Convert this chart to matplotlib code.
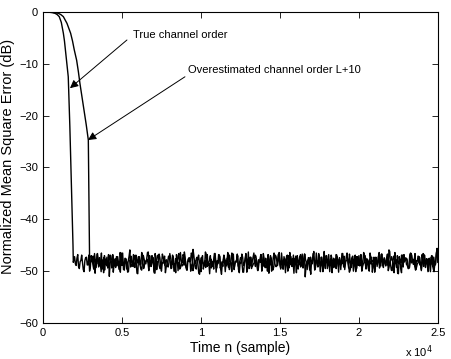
import numpy as np
import matplotlib
matplotlib.use('Agg')
import matplotlib.pyplot as plt

# decay part of each learning curve (time in samples, NMSE in dB)
true_n = [0, 200, 400, 600, 760, 900, 1030, 1160, 1290, 1360, 1420, 1480,
          1540, 1600, 1700, 1800, 1900, 1920]
true_db = [0, -0.01, -0.05, -0.13, -0.25, -0.5, -0.9, -2.0, -4.1, -5.6,
           -7.3, -8.9, -10.5, -12.5, -22.0, -33.5, -45.0, -48.3]

over_n = [0, 300, 600, 970, 1130, 1290, 1520, 1750, 1870, 1980, 2130, 2240,
          2340, 2470, 2600, 2740, 2870, 2900, 2930, 2950]
over_db = [0, -0.01, -0.06, -0.25, -0.5, -0.9, -2.2, -4.1, -5.6, -7.3, -9.3,
           -11.5, -13.8, -16.4, -19.0, -21.8, -24.7, -33.0, -42.0, -48.0]

# steady state part: evenly spaced samples from 2000
# (resp. 3000) to 25000, and the samples in between
true_steady = [
    -47.2, -48.9, -46.8, -49.5, -47.9, -48.3, -50.1, -47.4, -48.8, -46.9,
    -49.2, -48.0, -47.1, -50.4, -48.6, -47.7, -49.0, -46.5, -48.4, -49.8,
    -47.6, -48.2, -51.0, -47.9, -46.9, -48.7, -49.3, -47.3, -48.1, -50.2,
    -46.7, -48.5, -47.8, -49.6, -48.0, -45.9, -48.8, -49.1, -47.5, -48.3,
    -50.5, -47.2, -48.6, -46.8, -49.4, -48.1, -47.7, -49.9, -48.4, -47.0,
    -48.9, -46.6, -49.7, -48.2, -47.4, -50.0, -48.5, -47.1, -49.2, -48.0,
    -47.6, -49.5, -46.9, -48.8, -50.3, -47.8, -48.3, -46.4, -49.0, -48.6,
    -47.3, -49.8, -48.1, -47.5, -48.9, -45.8, -48.4, -49.6, -47.7, -48.2,
    -50.1, -47.0, -48.7, -49.3, -46.8, -48.5, -47.9, -49.1, -48.0, -46.6,
    -49.4, -48.3, -47.2, -50.6, -48.1, -47.6, -49.0, -48.8, -46.9, -48.4,
    -47.8, -49.7, -48.2, -46.7, -49.2, -47.4, -48.6, -50.2, -47.9, -48.0,
    -46.3, -48.9, -49.5, -47.3, -48.4, -47.7, -49.9, -48.1, -46.8, -48.7,
    -49.1, -47.5, -48.3, -50.4, -47.0, -48.6, -49.3, -46.9, -48.0, -47.8,
    -48.8, -46.5, -49.6, -48.2, -47.6, -50.0, -48.4, -47.2, -49.0, -48.5,
    -47.1, -49.4, -48.0, -46.8, -48.9, -47.7, -51.1, -48.3, -47.4, -49.2,
    -48.1, -46.6, -49.8, -47.9, -48.5, -47.3, -49.0, -48.7, -46.2, -48.4,
    -49.5, -47.8, -48.2, -50.3, -47.5, -48.9, -46.9, -49.1, -48.0, -47.6,
    -48.6, -49.7, -47.2, -48.3, -46.7, -49.3, -48.1, -47.9, -50.1, -48.4,
    -47.0, -48.8, -49.2, -46.4, -48.5, -47.6, -49.6, -48.2, -47.3, -48.9,
    -50.2, -47.7, -48.0, -49.4, -46.8, -48.6, -47.4, -49.0, -48.3, -45.9,
    -48.7, -49.9, -47.1, -48.4, -47.8, -50.5, -48.1, -46.9, -49.2, -48.0,
    -47.5, -48.9, -49.3, -46.6, -48.2, -47.9, -49.7, -48.5, -47.2, -48.6,
    -46.8, -49.1, -48.0, -47.6, -50.0, -48.3, -47.0, -49.5, -48.8, -46.5,
    -48.2,
]
true_steady_mid = [
    -48.6, -47.5, -49.1, -48.2, -46.9, -49.7, -48.0, -47.3, -48.8, -50.0,
    -47.0, -48.4, -49.4, -47.8, -46.6, -48.9, -48.1, -49.6, -47.4, -48.3,
    -49.0, -46.8, -48.5, -47.7, -50.2, -48.0, -47.2, -48.7, -49.3, -46.5,
    -48.2, -49.8, -47.6, -48.4, -47.1, -49.2, -48.6, -46.9, -48.0, -50.4,
    -47.3, -48.8, -46.4, -49.5, -48.1, -47.9, -48.5, -47.0, -49.1, -48.3,
    -50.1, -47.6, -48.2, -46.7, -49.0, -48.4, -47.5, -50.3, -48.7, -47.1,
    -48.0, -49.4, -47.3, -48.6, -46.8, -49.9, -48.2, -47.8, -48.9, -46.3,
    -49.3, -48.1, -47.4, -50.0, -48.5, -47.0, -49.1, -48.3, -46.9, -48.7,
    -47.6, -49.6, -48.0, -47.2, -48.8, -50.5, -47.7, -48.4, -46.6, -49.2,
    -48.3, -47.1, -49.7, -48.5, -46.9, -48.0, -47.5, -49.3, -48.1, -50.1,
    -46.7, -48.6, -47.9, -49.0, -48.2, -47.4, -50.2, -48.4, -47.0, -48.8,
    -49.5, -47.3, -48.1, -46.5, -49.1, -48.6, -47.8, -48.3, -50.0, -47.2,
    -48.5, -49.2, -46.8, -48.0, -47.6, -49.8, -48.2, -47.1, -48.9, -46.4,
    -49.4, -48.1, -47.7, -50.3, -48.4, -47.0, -48.7, -49.1, -46.9, -48.2,
    -47.5, -49.6, -48.3, -47.2, -48.8, -46.7, -49.0, -48.5, -47.4, -50.6,
    -48.0, -47.8, -49.3, -48.1, -46.6, -48.9, -47.3, -49.5, -48.4, -47.0,
    -48.6, -50.1, -47.5, -48.2, -49.2, -46.8, -48.0, -47.7, -49.7, -48.3,
    -47.1, -48.5, -46.5, -49.4, -48.1, -47.6, -50.0, -48.7, -47.2, -48.9,
    -49.0, -47.4, -48.3, -46.9, -49.6, -48.0, -47.8, -48.6, -50.2, -47.3,
    -48.4, -49.1, -47.0, -48.8, -46.7, -49.3, -48.2, -47.5, -48.9, -46.2,
    -49.8, -48.1, -47.6, -48.5, -50.4, -47.2, -48.3, -49.0, -46.8, -48.0,
    -47.7, -49.5, -48.2, -47.0, -48.7, -46.6, -49.2, -48.4, -47.4, -49.9,
    -48.1, -46.9, -48.6, -49.3, -47.5, -48.0, -47.1, -50.1, -48.5, -45.7,
]
over_steady = [
    -48.4, -47.1, -49.6, -48.0, -46.7, -49.2, -48.5, -47.8, -50.3, -48.1,
    -47.3, -48.8, -46.9, -49.4, -48.2, -47.6, -49.0, -48.6, -46.4, -48.9,
    -49.7, -47.5, -48.3, -50.1, -47.9, -48.4, -46.8, -49.3, -48.0, -47.2,
    -48.7, -49.8, -47.0, -48.5, -47.7, -46.3, -49.1, -48.2, -47.4, -50.4,
    -48.0, -46.9, -49.5, -48.6, -47.3, -48.9, -47.8, -49.2, -46.6, -48.3,
    -47.5, -50.0, -48.1, -47.1, -49.6, -48.4, -46.8, -48.8, -49.3, -47.7,
    -48.2, -46.5, -49.9, -48.0, -47.6, -48.7, -50.6, -47.4, -48.5, -49.0,
    -46.7, -48.3, -47.9, -49.4, -48.1, -47.2, -50.2, -48.6, -46.9, -48.9,
    -49.1, -47.8, -48.4, -46.4, -49.7, -48.0, -47.5, -49.2, -48.3, -47.0,
    -50.3, -48.5, -47.3, -48.8, -46.6, -49.5, -48.2, -47.7, -49.0, -48.4,
    -47.1, -49.8, -48.1, -46.8, -48.6, -47.6, -49.3, -50.0, -48.0, -47.4,
    -48.9, -46.5, -49.1, -48.3, -47.9, -49.6, -48.5, -47.2, -48.7, -46.9,
    -49.4, -48.0, -47.6, -50.4, -48.2, -47.0, -48.8, -49.2, -46.7, -48.4,
    -47.8, -49.7, -48.1, -47.3, -48.6, -46.2, -49.0, -48.5, -47.5, -50.1,
    -48.3, -47.1, -49.5, -48.0, -46.8, -48.9, -47.7, -49.3, -48.4, -47.2,
    -50.2, -48.6, -46.6, -49.1, -48.2, -47.9, -48.7, -49.8, -47.4, -48.0,
    -46.9, -49.4, -48.3, -47.6, -50.0, -48.5, -47.0, -48.8, -49.2, -46.5,
    -48.1, -47.8, -49.6, -48.4, -47.3, -48.9, -46.7, -49.0, -48.2, -47.5,
    -49.9, -48.0, -47.2, -48.6, -46.4, -49.3, -48.3, -47.7, -50.3, -48.1,
    -47.4, -48.7, -49.5, -46.8, -48.4, -47.9, -49.1, -48.0, -47.1, -48.8,
    -49.7, -46.6, -48.5, -47.6, -50.1, -48.2, -47.3, -49.2, -48.6, -46.9,
    -48.3,
]
over_steady_mid = [
    -47.9, -48.7, -46.6, -49.3, -48.0, -47.4, -50.1, -48.2, -47.0, -48.8,
    -49.4, -47.6, -48.3, -46.8, -49.0, -48.5, -47.2, -49.7, -48.1, -46.5,
    -48.6, -47.8, -50.2, -48.0, -47.1, -48.9, -49.2, -46.9, -48.4, -47.5,
    -49.6, -48.2, -47.7, -48.6, -46.4, -49.1, -48.0, -47.3, -50.3, -48.5,
    -47.0, -48.8, -49.5, -46.7, -48.1, -47.9, -49.0, -48.3, -47.4, -48.7,
    -50.0, -47.6, -48.2, -46.6, -49.3, -48.4, -47.1, -48.9, -49.8, -47.5,
    -48.0, -46.9, -49.2, -48.6, -47.3, -50.4, -48.1, -47.7, -48.5, -46.3,
    -49.1, -48.3, -47.0, -48.8, -49.6, -47.4, -48.0, -46.8, -49.4, -48.2,
    -47.6, -50.1, -48.4, -47.2, -48.7, -46.5, -49.0, -48.1, -47.8, -49.7,
    -48.3, -46.7, -48.9, -47.5, -50.2, -48.0, -47.3, -49.2, -48.6, -46.9,
    -48.1, -49.5, -47.7, -48.4, -46.6, -49.3, -48.2, -47.0, -48.8, -50.0,
    -47.4, -48.6, -49.1, -46.8, -48.3, -47.9, -49.6, -48.0, -47.2, -48.5,
    -46.4, -49.0, -48.4, -47.6, -50.3, -48.1, -47.1, -48.9, -49.4, -46.7,
    -48.2, -47.8, -49.8, -48.0, -47.5, -48.7, -46.5, -49.2, -48.3, -47.3,
    -50.1, -48.6, -47.0, -48.4, -49.0, -46.9, -48.1, -47.7, -49.5, -48.2,
    -47.4, -48.8, -46.6, -49.3, -48.0, -47.6, -50.2, -48.5, -47.1, -48.3,
    -49.7, -47.2, -48.6, -46.8, -49.1, -48.4, -47.9, -48.0, -50.0, -47.5,
    -48.1, -49.4, -47.3, -48.7, -46.4, -49.0, -48.2, -47.6, -48.9, -46.7,
    -49.2, -48.0, -47.8, -50.3, -48.4, -47.0, -48.6, -49.5, -46.9, -48.3,
    -47.5, -48.9, -49.1, -46.5, -48.2, -47.7, -49.8, -48.1, -47.2, -48.7,
    -48.4, -46.8, -49.3, -48.0, -47.6, -50.1, -48.5, -47.3, -48.8, -45.6,
]

x_ticks = [0, 5000, 10000, 15000, 20000, 25000]
x_ticklabels = ['0', '0.5', '1', '1.5', '2', '2.5']
y_ticks = [-60, -50, -40, -30, -20, -10, 0]


def interleave(a, b):
    out = np.empty(len(a) + len(b))
    out[0::2] = a
    out[1::2] = b
    return out


plt.rcParams['font.family'] = ['Liberation Sans', 'DejaVu Sans']

fig = plt.figure(figsize=(4.51, 3.59), dpi=100)
ax = fig.add_axes([0.0953, 0.1003, 0.8757, 0.8663])

s1 = interleave(true_steady, true_steady_mid)
s2 = interleave(over_steady, over_steady_mid)
t1 = np.concatenate([true_n, np.linspace(2000, 25000, len(s1))])
y1 = np.concatenate([true_db, s1])
t2 = np.concatenate([over_n, np.linspace(3000, 25000, len(s2))])
y2 = np.concatenate([over_db, s2])

ax.plot(t1, y1, color='k', lw=1.0)
ax.plot(t2, y2, color='k', lw=1.0)

ax.set_xlim(0, 25000)
ax.set_ylim(-60, 0)
ax.set_xticks(x_ticks)
ax.set_xticklabels(x_ticklabels)
ax.set_yticks(y_ticks)
ax.tick_params(direction='in', top=True, right=True, labelsize=8,
               length=4, width=0.6)
for s in ax.spines.values():
    s.set_linewidth(0.8)

ax.set_xlabel('Time n (sample)', fontsize=10, labelpad=2)
ax.set_ylabel('Normalized Mean Square Error (dB)', fontsize=10.5)
ax.yaxis.set_label_coords(-0.07, 0.534)
fig.text(0.96, 0.02, r'x 10$^4$', fontsize=8, ha='right', va='center')

arrow = dict(arrowstyle='-|>', color='k', lw=0.7, mutation_scale=12,
             shrinkA=0, shrinkB=0)
ax.annotate('', xy=(1709, -14.7), xytext=(5316, -5.4), arrowprops=arrow)
ax.annotate('', xy=(2848, -24.7), xytext=(8987, -12.5), arrowprops=arrow)
ax.text(5696, -4.4, 'True channel order', fontsize=8, va='center')
ax.text(9177, -11.2, 'Overestimated channel order L+10', fontsize=8,
        va='center')

fig.savefig('out.png', dpi=100)
